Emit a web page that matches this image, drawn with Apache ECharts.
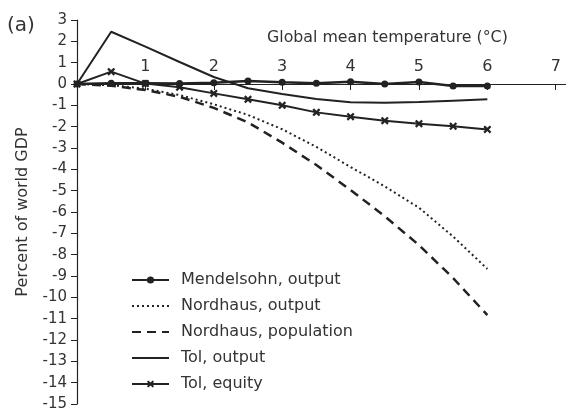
<!DOCTYPE html>
<html>
<head>
<meta charset="utf-8">
<script src="https://cdn.jsdelivr.net/npm/echarts@6/dist/echarts.min.js"></script>
<style>html,body{margin:0;padding:0;background:#fff;}#c{width:566px;height:412px;}</style>
</head>
<body>
<div id="c"></div>
<script>
const temps = [0, 0.5, 1, 1.5, 2, 2.5, 3, 3.5, 4, 4.5, 5, 5.5, 6];
const mendelsohn = [0, 0.03, 0.03, 0.02, 0.06, 0.14, 0.08, 0.03, 0.1, 0, 0.09, -0.09, -0.09];
const nordhausOut = [0, -0.06, -0.22, -0.52, -0.95, -1.45, -2.12, -2.95, -3.89, -4.8, -5.8, -7.15, -8.67];
const nordhausPop = [0, -0.08, -0.28, -0.6, -1.12, -1.8, -2.75, -3.8, -4.97, -6.2, -7.55, -9.1, -10.83];
const tolOut = [0, 2.45, 1.75, 1.03, 0.33, -0.2, -0.47, -0.7, -0.86, -0.88, -0.84, -0.78, -0.72];
const tolEq = [0, 0.58, 0.02, -0.15, -0.44, -0.72, -1.0, -1.33, -1.53, -1.72, -1.86, -1.98, -2.13];
const xTicks = [1, 2, 3, 4, 5, 6, 7];
const seriesNames = ['Mendelsohn, output', 'Nordhaus, output', 'Nordhaus, population', 'Tol, output', 'Tol, equity'];

const pair = arr => temps.map((t, i) => [t, arr[i]]);
const INK = '#222';
const FONT = 'DejaVu Sans';
const crossPath = 'path://M0,2L2,0L5,3L8,0L10,2L7,5L10,8L8,10L5,7L2,10L0,8L3,5Z';
const noMark = {color: 'rgba(0,0,0,0)', borderWidth: 0, opacity: 0};

const chart = echarts.init(document.getElementById('c'), null, {renderer: 'canvas'});
chart.setOption({
  backgroundColor: '#fff',
  animation: false,
  textStyle: {fontFamily: FONT, color: '#333'},
  title: [
    {text: '(a)', left: 7, top: 16, padding: 0,
     textStyle: {fontFamily: FONT, fontSize: 20, fontWeight: 'normal', color: '#333'}},
    {text: 'Global mean temperature (°C)', left: 267, top: 30, padding: 0,
     textStyle: {fontFamily: FONT, fontSize: 15.8, fontWeight: 'normal', color: '#333'}}
  ],
  grid: {left: 77, top: 20, width: 489, height: 384, outerBoundsMode: 'none', containLabel: false},
  legend: {
    orient: 'vertical', left: 131, top: 271, padding: 0,
    itemWidth: 37, itemHeight: 9, itemGap: 8,
    data: [
      {name: seriesNames[0]},
      {name: seriesNames[1], itemStyle: noMark},
      {name: seriesNames[2], itemStyle: noMark},
      {name: seriesNames[3], itemStyle: noMark},
      {name: seriesNames[4]}
    ],
    textStyle: {fontFamily: FONT, fontSize: 16, lineHeight: 18, color: '#333', padding: [0, 0, 0, 7]}
  },
  xAxis: {
    type: 'value', min: 0, max: 7.15, position: 'top', offset: -64,
    axisLine: {onZero: false, lineStyle: {color: INK, width: 1.2}},
    axisTick: {show: true, inside: true, length: 6, lineStyle: {color: INK}, customValues: xTicks},
    axisLabel: {margin: 9, fontSize: 16, color: '#333', fontFamily: FONT, customValues: xTicks},
    splitLine: {show: false}
  },
  yAxis: {
    type: 'value', min: -15, max: 3, interval: 1,
    name: 'Percent of world GDP', nameLocation: 'middle', nameGap: 46,
    nameTextStyle: {fontFamily: FONT, fontSize: 16, color: '#333'},
    axisLine: {show: true, onZero: false, lineStyle: {color: INK, width: 1.2}},
    axisTick: {show: true, length: 6, lineStyle: {color: INK}},
    axisLabel: {margin: 10, fontSize: 15, color: '#333', fontFamily: FONT},
    splitLine: {show: false}
  },
  series: [
    {name: seriesNames[0], type: 'line', data: pair(mendelsohn), symbol: 'circle', symbolSize: 7,
     showSymbol: true, itemStyle: {color: INK}, lineStyle: {color: INK, width: 2.5}, z: 5},
    {name: seriesNames[1], type: 'line', data: pair(nordhausOut), showSymbol: false, symbol: 'none',
     itemStyle: {color: INK}, lineStyle: {color: INK, width: 2, type: [2, 3]}},
    {name: seriesNames[2], type: 'line', data: pair(nordhausPop), showSymbol: false, symbol: 'none',
     itemStyle: {color: INK}, lineStyle: {color: INK, width: 2.5, type: [9, 6]}},
    {name: seriesNames[3], type: 'line', data: pair(tolOut), showSymbol: false, symbol: 'none',
     itemStyle: {color: INK}, lineStyle: {color: INK, width: 2}},
    {name: seriesNames[4], type: 'line', data: pair(tolEq), symbol: crossPath, symbolSize: 8,
     showSymbol: true, itemStyle: {color: INK}, lineStyle: {color: INK, width: 2}}
  ]
});
</script>
</body>
</html>
